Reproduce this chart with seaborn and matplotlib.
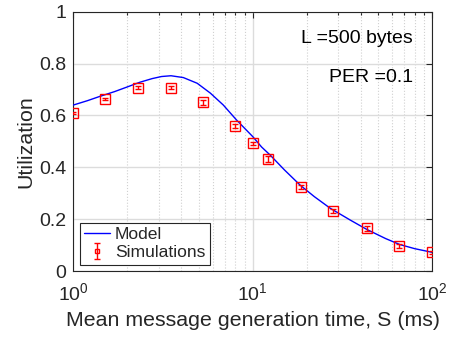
import matplotlib
matplotlib.use("Agg")
import matplotlib.pyplot as plt
import seaborn as sns
import pandas as pd
from matplotlib.ticker import LogLocator
from matplotlib.container import ErrorbarContainer
from matplotlib.legend_handler import HandlerErrorbar

# Model curve
model_s = [1.0, 1.2, 1.4, 1.7, 2.0, 2.35, 2.75, 3.1, 3.5, 4.1, 4.9, 5.8, 6.85, 8.1,
           10.0, 11.2, 12.5, 15.0, 18.3, 22.0, 27.0, 35.0, 43.0, 55.0, 66.0, 80.0, 100.0]
model_u = [0.640, 0.657, 0.673, 0.692, 0.710, 0.728, 0.742, 0.750, 0.753, 0.746, 0.724,
           0.686, 0.640, 0.583, 0.518, 0.478, 0.447, 0.390, 0.332, 0.287, 0.242, 0.196,
           0.161, 0.125, 0.102, 0.086, 0.072]

# Simulations
sim_s = [1.0, 1.5, 2.3, 3.5, 5.3, 8.0, 10.0, 12.2, 18.5, 28.0, 43.0, 65.0, 100.0]
sim_u = [0.608, 0.665, 0.707, 0.707, 0.650, 0.559, 0.492, 0.432, 0.324, 0.230, 0.165, 0.098, 0.072]
sim_err = [0.004, 0.004, 0.006, 0.006, 0.008, 0.008, 0.006, 0.012, 0.008, 0.008, 0.010, 0.008, 0.005]

sns.set_style("white")
plt.rcParams['font.family'] = ['Liberation Sans', 'DejaVu Sans']
plt.rcParams['mathtext.default'] = 'regular'
FS_TICK = 14
FS_LAB = 15.4
FS_LEG = 12.6

fig = plt.figure(figsize=(4.51, 3.37), dpi=100)
ax = fig.add_axes([0.1626, 0.1958, 0.7959, 0.7695])

model_df = pd.DataFrame({"S": model_s, "U": model_u})
sns.lineplot(data=model_df, x="S", y="U", ax=ax, color="#0000ff", linewidth=1.0,
             label="Model", zorder=3)
ax.errorbar(sim_s, sim_u, yerr=sim_err, fmt="s", markersize=7, markerfacecolor="none",
            markeredgecolor="#ff0000", markeredgewidth=1.0, ecolor="#ff0000",
            elinewidth=1.0, capsize=2, capthick=1.0, label="Simulations", zorder=4)

ax.set_xscale("log")
ax.set_xlim(1, 100)
ax.set_ylim(0, 1)
ax.set_yticks([0, 0.2, 0.4, 0.6, 0.8, 1.0])
ax.set_yticklabels(["0", "0.2", "0.4", "0.6", "0.8", "1"])
ax.xaxis.set_minor_locator(LogLocator(base=10, subs=range(2, 10)))

ax.grid(True, which="major", color="#dcdcdc", linewidth=1.0, linestyle="-")
ax.grid(True, which="minor", axis="x", color="#d0d0d0", linewidth=0.8, linestyle=":")
ax.set_axisbelow(True)

ax.tick_params(which="both", direction="in", top=True, right=True, labelsize=FS_TICK,
               colors="#262626", length=4, width=0.8)
ax.tick_params(which="minor", length=2.5)
ax.tick_params(axis="x", which="major", pad=8)
ax.tick_params(axis="y", which="major", pad=5)
for sp in ax.spines.values():
    sp.set_color("#262626")
    sp.set_linewidth(0.8)

ax.set_xlabel("Mean message generation time, S (ms)", fontsize=FS_LAB, color="#262626", labelpad=5)
ax.set_ylabel("Utilization", fontsize=FS_LAB, color="#262626", labelpad=3)

ax.text(0.946, 0.895, "L =500 bytes", transform=ax.transAxes, ha="right", va="center",
        fontsize=FS_TICK, color="black")
ax.text(0.946, 0.748, "PER =0.1", transform=ax.transAxes, ha="right", va="center",
        fontsize=FS_TICK, color="black")

leg = ax.legend(loc="lower left", fontsize=FS_LEG, frameon=True, fancybox=False,
                edgecolor="#262626", framealpha=1, borderpad=0.25, handlelength=1.45,
                handletextpad=0.3, labelspacing=0.15, borderaxespad=0.37, markerscale=0.4,
                handler_map={ErrorbarContainer: HandlerErrorbar(yerr_size=0.45)})
leg.get_frame().set_linewidth(0.8)

fig.savefig("out.png", dpi=100)
